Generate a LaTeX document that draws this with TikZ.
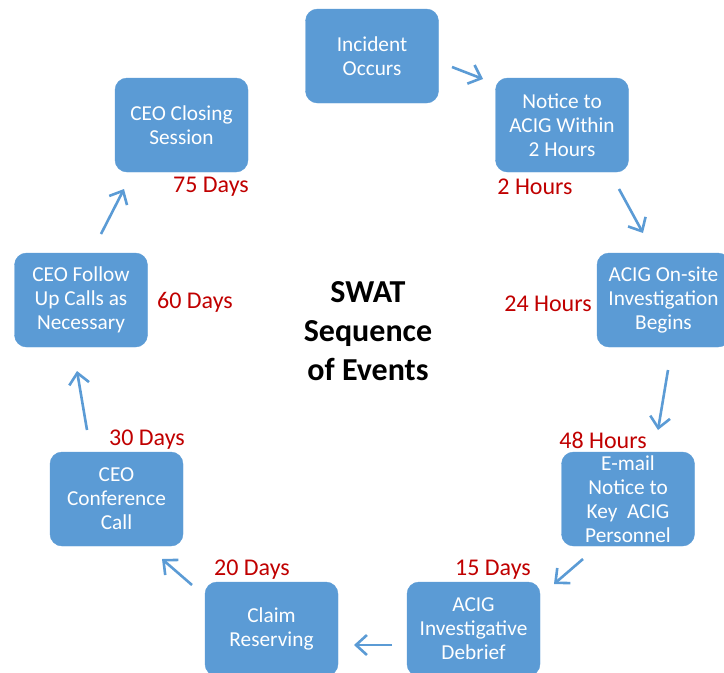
\documentclass[tikz,border=0pt]{standalone}
\usepackage{fontspec}
\setmainfont{Carlito}
\usepackage{tikz}
\usetikzlibrary{arrows.meta}
\definecolor{boxblue}{HTML}{5B9BD5}
\definecolor{dayred}{HTML}{C00000}
\tikzset{
  stepbox/.style={rectangle, rounded corners=12pt, fill=boxblue, draw=boxblue,
    minimum width=133pt, minimum height=94pt, inner sep=0pt, align=center,
    text=white, font=\fontsize{21.3}{24}\selectfont},
  daylabel/.style={text=dayred, inner sep=0pt, font=\fontsize{24}{27}\selectfont},
  flow/.style={draw=boxblue, line width=2.6pt,
    -{Straight Barb[length=11pt, width=20pt, line width=2.6pt]}}
}
\begin{document}
\begin{tikzpicture}[x=1pt, y=-1pt]
            \useasboundingbox (0, 0) rectangle (724, 673);
            \clip (0, 0) rectangle (724, 673);

            % Boxes
            \node[stepbox] (incident) at (372, 56) {Incident\\Occurs};
            \node[stepbox] (notice) at (562, 125) {Notice to\\ACIG Within\\2 Hours};
            \node[stepbox] (onsite) at (663.5, 300) {ACIG On-site\\Investigation\\Begins};
            \node[stepbox] (email) at (628, 499) {E-mail\\Notice to\\Key\ \ ACIG\\Personnel};
            \node[stepbox] (debrief) at (473.5, 629) {ACIG\\Investigative\\Debrief};
            \node[stepbox] (reserve) at (271.5, 629) {Claim\\Reserving};
            \node[stepbox] (confcall) at (116.5, 499) {CEO\\Conference\\Call};
            \node[stepbox] (followup) at (81, 300) {CEO Follow\\Up Calls as\\Necessary};
            \node[stepbox] (closing) at (181.5, 125) {CEO Closing\\Session};

            % Title
            \node[align=center, font=\fontsize{32}{39}\selectfont\bfseries] (title) at (368, 331)
                {SWAT\\Sequence\\of Events};

            % Time labels
            \node[daylabel] (t1) at (535, 187) {2 Hours};
            \node[daylabel] (t2) at (548, 304) {24 Hours};
            \node[daylabel] (t3) at (603, 440) {48 Hours};
            \node[daylabel] (t4) at (493, 570) {15 Days};
            \node[daylabel] (t5) at (252, 570) {20 Days};
            \node[daylabel] (t6) at (147, 440) {30 Days};
            \node[daylabel] (t7) at (195, 302) {60 Days};
            \node[daylabel] (t8) at (211, 187) {75 Days};

            % Arrow ends
            \coordinate (a1s) at (452, 67);   \coordinate (a1e) at (483, 79);
            \coordinate (a2s) at (619, 189);  \coordinate (a2e) at (643, 233);
            \coordinate (a3s) at (668, 370);  \coordinate (a3e) at (658, 430);
            \coordinate (a4s) at (583, 559);  \coordinate (a4e) at (554, 584);
            \coordinate (a5s) at (392, 645);  \coordinate (a5e) at (354, 645);
            \coordinate (a6s) at (192, 585);  \coordinate (a6e) at (162, 559);
            \coordinate (a7s) at (87, 430);   \coordinate (a7e) at (77, 371);
            \coordinate (a8s) at (101, 234);  \coordinate (a8e) at (124, 189);

            % Arrows
            \foreach \n in {1,...,8}
                \draw[flow] (a\n s) -- (a\n e);
        \end{tikzpicture}
\end{document}
